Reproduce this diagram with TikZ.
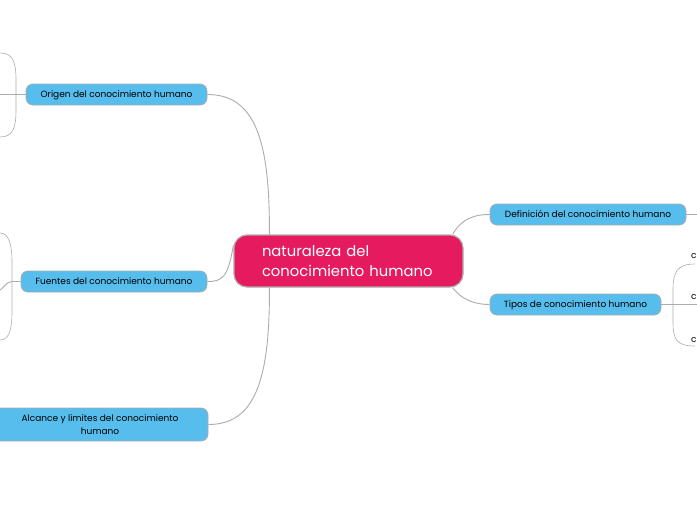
\documentclass[tikz,border=0pt]{standalone}
\usepackage{fontspec}
\setmainfont{Poppins}
\usetikzlibrary{positioning}
\definecolor{rootpink}{RGB}{230,27,95}
\definecolor{topicblue}{RGB}{86,189,236}
\definecolor{linkgray}{RGB}{172,172,172}
\begin{document}
\begin{tikzpicture}[x=1pt, y=-1pt,
    topic/.style={fill=topicblue, draw=linkgray, line width=0.8pt, rounded corners=7pt,
        minimum height=21pt, inner sep=0pt, font=\fontsize{9}{12.5}\selectfont},
    oneline/.style={topic, text height=6.5pt, text depth=1.5pt},
    link/.style={draw=linkgray, line width=0.9pt}]
    \useasboundingbox (0,0) rectangle (697,520);

    \node[fill=rootpink, draw=linkgray, line width=1.2pt, rounded corners=13pt,
        minimum width=229pt, minimum height=52pt, text width=173pt, align=left,
        text=white, font=\fontsize{14.8}{20}\selectfont] (root) at (348.5,261)
        {naturaleza del\\conocimiento humano};

    \node[oneline, minimum width=181pt] (origen) at (116.5,94.5) {Origen del conocimiento humano};
    \node[oneline, minimum width=186pt] (fuentes) at (114,281.5) {Fuentes del conocimiento humano};
    \node[topic, minimum width=216pt, minimum height=33pt, align=center] (alcance) at (100,424.5)
        {Alcance y limites del conocimiento\\humano};
    \node[oneline, minimum width=196pt] (definicion) at (588,214.5) {Definición del conocimiento humano};
    \node[oneline, minimum width=171pt] (tipos) at (575.5,304.5) {Tipos de conocimiento humano};

    % left side
    \draw[link] ([xshift=36pt]root.north west) .. controls (270,140) and (255,94.5) .. (origen.east);
    \draw[link] ([xshift=36pt]root.south west) .. controls (270,380) and (255,424.5) .. (alcance.east);
    \draw[link] (fuentes.east) .. controls (222,281.5) and (228,278) .. ([yshift=16pt]root.west);

    % right side
    \draw[link] ([xshift=-11pt]root.north east) .. controls (462,218) and (475,214.5) .. (definicion.west);
    \draw[link] ([xshift=-11pt]root.south east) .. controls (462,300) and (475,304.5) .. (tipos.west);

    % cut-off branches
    \coordinate (defend) at (697,214.5);
    \coordinate (tipend) at (697,304.5);
    \draw[link] (definicion.east) -- (defend);
    \draw[link] (tipos.east) -- (tipend);
    \draw[link, line width=0.6pt] (695,264) .. controls (677,264) and (673,272) .. (673,290)
        -- (673,322) .. controls (673,340) and (677,346) .. (695,346);
    \node[anchor=west, inner sep=0pt, font=\fontsize{9}{10}\selectfont] (c1) at (691,256) {c};
    \node[anchor=west, inner sep=0pt, font=\fontsize{9}{10}\selectfont] (c2) at (691,297) {c};
    \node[anchor=west, inner sep=0pt, font=\fontsize{9}{10}\selectfont] (c3) at (691,340) {c};

    \coordinate (origend) at (0,94.5);
    \draw[link] (origen.west) -- (origend);
    \draw[link, line width=0.6pt] (0,53) .. controls (13,53) and (16,62) .. (16,80)
        -- (16,110) .. controls (16,128) and (13,137) .. (0,137);
    \coordinate (fuentend) at (0,290);
    \draw[link] (fuentes.west) -- (12,281.5) .. controls (6,281.5) and (3,289) .. (fuentend);
    \draw[link, line width=0.6pt] (0,233) .. controls (9,233) and (12,245) .. (12,262)
        -- (12,312) .. controls (12,330) and (9,340) .. (0,340);
\end{tikzpicture}
\end{document}
